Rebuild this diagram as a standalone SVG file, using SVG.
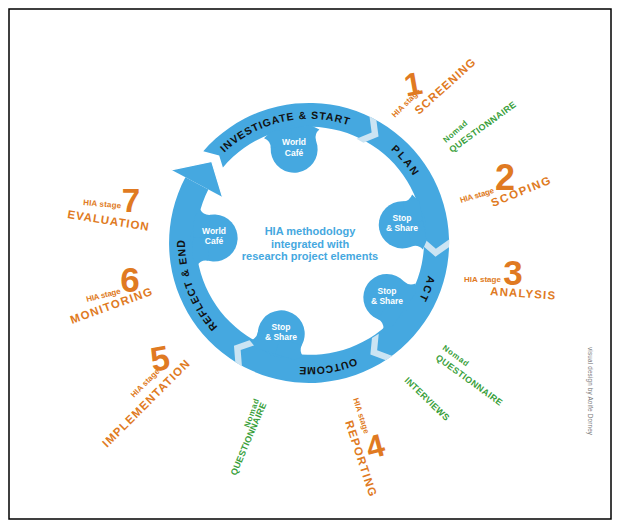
<svg xmlns="http://www.w3.org/2000/svg" xmlns:xlink="http://www.w3.org/1999/xlink" width="621" height="530" viewBox="0 0 621 530">
<style>
.ring{fill:#45a8e0}
.chev{fill:#cbe4f3}
.rt{font-family:"Liberation Sans",Arial,sans-serif;font-weight:bold;font-size:10.5px;fill:#111;letter-spacing:0.9px}
.bub{fill:#45a8e0}
.bt{font-family:"Liberation Sans",Arial,sans-serif;font-weight:bold;font-size:8.5px;fill:#fff;text-anchor:middle}
.ctr{font-family:"Liberation Sans",Arial,sans-serif;font-weight:bold;font-size:11px;fill:#45a8e0;text-anchor:middle}
.hia{font-family:"Liberation Sans",Arial,sans-serif;font-weight:bold;font-size:8px;fill:#e07a22}
.num{font-family:"Liberation Sans",Arial,sans-serif;font-weight:bold;font-size:34px;fill:#e07a22;text-anchor:middle}
.stg{font-family:"Liberation Sans",Arial,sans-serif;font-weight:bold;font-size:11.5px;fill:#e07a22}
.gn{font-family:"Liberation Sans",Arial,sans-serif;font-weight:bold;font-size:8px;fill:#3a9f3c}
.gq{font-family:"Liberation Sans",Arial,sans-serif;font-weight:bold;font-size:9px;fill:#3a9f3c}
.cred{font-family:"Liberation Sans",Arial,sans-serif;font-size:6.3px;fill:#777}
</style>
<defs>
<path id="rp" d="M192.95,200.76 A123.5,123.5 0 1 1 425.05,285.24 A123.5,123.5 0 1 1 192.95,200.76"/>
<polygon id="chev" points="140,-3 127,7 114,-3 114,-11 127,-1 140,-11"/>
<g id="bub">
<circle cx="95" cy="0" r="23.5"/>
<path d="M100,-22.9 Q107,-22 110.5,-28 L116,-20 L116,0 L100,0 Z"/>
<path d="M100,22.9 Q107,22 110.5,28 L116,20 L116,0 L100,0 Z"/>
</g>
</defs>
<rect x="0" y="0" width="621" height="530" fill="#fff"/>
<rect x="9" y="9" width="602" height="510" fill="#fff" stroke="#000" stroke-width="1.5"/>

<g id="connectors">
<path class="ring" d="M203.3,151.2 A140,140 0 1 1 185.4,177.3 L208.3,189.5 A114,114 0 1 0 222.9,167.4 L219.2,155.6 Z"/>
<polygon class="ring" points="171.3,169.8 211.7,161.4 222.5,197.0"/>
<polyline points="171.3,169.8 211.7,161.4 222.5,197.0" fill="none" stroke="#fff" stroke-width="1.2"/>
<use href="#chev" class="chev" transform="translate(309,243) rotate(-60)"/>
<use href="#chev" class="chev" transform="translate(309,243) rotate(3)"/>
<use href="#chev" class="chev" transform="translate(309,243) rotate(58)"/>
<use href="#chev" class="chev" transform="translate(309,243) rotate(123)"/>
<text class="rt"><textPath href="#rp" startOffset="125" text-anchor="middle">INVESTIGATE &amp; START</textPath></text>
<text class="rt" style="letter-spacing:2px"><textPath href="#rp" startOffset="258.7" text-anchor="middle">PLAN</textPath></text>
<text class="rt" style="letter-spacing:2px"><textPath href="#rp" startOffset="392.3" text-anchor="middle">ACT</textPath></text>
<text class="rt" style="letter-spacing:0.6px"><textPath href="#rp" startOffset="521.6" text-anchor="middle">OUTCOME</textPath></text>
<text class="rt"><textPath href="#rp" startOffset="690.8" text-anchor="middle">REFLECT &amp; END</textPath></text>
</g>

<g id="node-worldcafe-top">
<use href="#bub" class="bub" transform="translate(309,243) rotate(-99)"/>
<text class="bt" x="294" y="145">World</text>
<text class="bt" x="294" y="155.5">Café</text>
</g>
<g id="node-stop-share-1">
<use href="#bub" class="bub" transform="translate(309,243) rotate(-11)"/>
<text class="bt" x="402" y="221">Stop</text>
<text class="bt" x="402" y="231">&amp; Share</text>
</g>
<g id="node-stop-share-2">
<use href="#bub" class="bub" transform="translate(309,243) rotate(35)"/>
<text class="bt" x="387" y="293.5">Stop</text>
<text class="bt" x="387" y="303.5">&amp; Share</text>
</g>
<g id="node-stop-share-3">
<use href="#bub" class="bub" transform="translate(309,243) rotate(107)"/>
<text class="bt" x="281" y="329.5">Stop</text>
<text class="bt" x="281" y="339.5">&amp; Share</text>
</g>
<g id="node-worldcafe-left">
<use href="#bub" class="bub" transform="translate(309,243) rotate(183)"/>
<text class="bt" x="214" y="233.5">World</text>
<text class="bt" x="214" y="244">Café</text>
</g>

<g id="center">
<text class="ctr" x="310" y="235">HIA methodology</text>
<text class="ctr" x="310" y="247.5">integrated with</text>
<text class="ctr" x="310" y="260">research project elements</text>
</g>

<g id="stage1">
<text class="hia" transform="translate(395,118) rotate(-45)" textLength="37" lengthAdjust="spacing">HIA stage</text>
<text class="num" transform="translate(415,95) rotate(-10)" style="font-size:32px">1</text>
<text class="stg" transform="translate(419,115) rotate(-42)" textLength="77" lengthAdjust="spacing">SCREENING</text>
</g>
<g id="stage2">
<text class="hia" transform="translate(461,203) rotate(-17)" textLength="35" lengthAdjust="spacing">HIA stage</text>
<text class="num" x="505" y="190" style="font-size:36px">2</text>
<text class="stg" transform="translate(493,207) rotate(-22)" textLength="63" lengthAdjust="spacing">SCOPING</text>
</g>
<g id="stage3">
<text class="hia" x="464" y="282" textLength="37" lengthAdjust="spacing">HIA stage</text>
<text class="num" x="513" y="285" style="font-size:35px">3</text>
<text class="stg" transform="translate(490,295) rotate(4)" textLength="65" lengthAdjust="spacing">ANALYSIS</text>
</g>
<g id="stage4">
<text class="hia" transform="translate(353,399) rotate(72)" textLength="37" lengthAdjust="spacing">HIA stage</text>
<text class="num" transform="translate(378,457) rotate(-15)" style="font-size:32px">4</text>
<text class="stg" transform="translate(345,422) rotate(72)" textLength="79" lengthAdjust="spacing">REPORTING</text>
</g>
<g id="stage5">
<text class="hia" transform="translate(134,398) rotate(-45)" textLength="37" lengthAdjust="spacing">HIA stage</text>
<text class="num" transform="translate(162,370) rotate(-10)" style="font-size:34px">5</text>
<text class="stg" transform="translate(107,448) rotate(-45)" textLength="118" lengthAdjust="spacing">IMPLEMENTATION</text>
</g>
<g id="stage6">
<text class="hia" transform="translate(87,302) rotate(-14)" textLength="35" lengthAdjust="spacing">HIA stage</text>
<text class="num" x="130" y="292" style="font-size:35px">6</text>
<text class="stg" transform="translate(72,324) rotate(-20)" textLength="86" lengthAdjust="spacing">MONITORING</text>
</g>
<g id="stage7">
<text class="hia" transform="translate(83,205) rotate(5)" textLength="38" lengthAdjust="spacing">HIA stage</text>
<text class="num" x="131" y="212" style="font-size:33px">7</text>
<text class="stg" transform="translate(67,218) rotate(9)" textLength="82" lengthAdjust="spacing">EVALUATION</text>
</g>

<g id="nomad-1">
<text class="gn" transform="translate(446,143) rotate(-41)" textLength="29" lengthAdjust="spacing">Nomad</text>
<text class="gq" transform="translate(452,153) rotate(-36)" textLength="80" lengthAdjust="spacing">QUESTIONNAIRE</text>
</g>
<g id="nomad-2">
<text class="gn" transform="translate(442,349) rotate(36)" textLength="30" lengthAdjust="spacing">Nomad</text>
<text class="gq" transform="translate(435,359) rotate(36)" textLength="80" lengthAdjust="spacing">QUESTIONNAIRE</text>
</g>
<g id="interviews">
<text class="gq" transform="translate(404,381) rotate(44)" textLength="58" lengthAdjust="spacing">INTERVIEWS</text>
</g>
<g id="nomad-3">
<text class="gn" transform="translate(249,428) rotate(-70)" textLength="30" lengthAdjust="spacing">Nomad</text>
<text class="gq" transform="translate(236,476) rotate(-67)" textLength="78" lengthAdjust="spacing">QUESTIONNAIRE</text>
</g>

<g id="credit">
<text class="cred" transform="translate(588,347) rotate(90)" textLength="88" lengthAdjust="spacing">visual design by Aoife Dorney</text>
</g>
</svg>
